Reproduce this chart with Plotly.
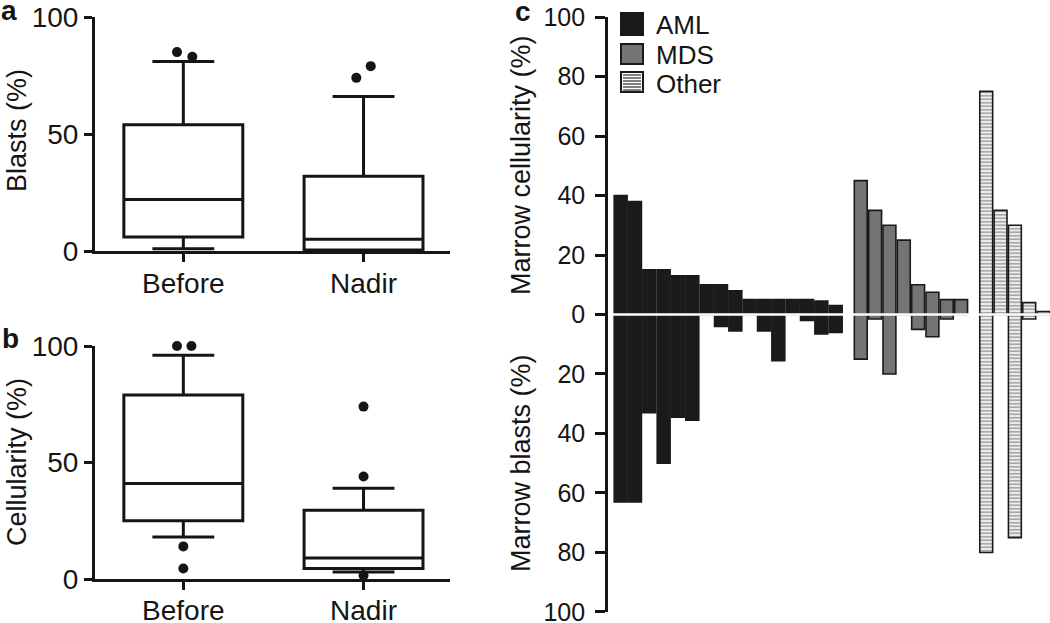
import plotly.graph_objects as go

groups = ['Before', 'Nadir']

blasts_q1 = [6, 0.5]
blasts_median = [22, 5]
blasts_q3 = [54, 32]
blasts_low = [1, 0]
blasts_high = [81, 66]
blasts_out_before = [85, 83]
blasts_out_nadir = [74, 79]

cell_q1 = [25, 4.5]
cell_median = [41, 9]
cell_q3 = [79, 29.5]
cell_low = [18, 3]
cell_high = [96, 39]
cell_out_before = [100, 100, 14, 4.5]
cell_out_nadir = [74, 44, 1.5]

# Panel c: marrow cellularity (up) and marrow blasts (down) per patient (%)
diagnoses = ['AML', 'MDS', 'Other']
aml_cellularity = [40, 38, 15, 15, 13, 13, 10, 10, 8, 5, 5, 5, 5, 5, 4.5, 3]
aml_blasts = [63, 63, 33, 50, 34.5, 35.5, 0, 4, 5.5, 0, 5.5, 15.5, 0, 2, 6.5, 6]
mds_cellularity = [45, 35, 30, 25, 10, 7.5, 5, 5]
mds_blasts = [15, 1.5, 20, 0, 5, 7.5, 1.5, 0]
other_cellularity = [75, 35, 30, 4, 1]
other_blasts = [80, 0, 75, 1.5, 0]

FONT = 'Liberation Sans, Arial, sans-serif'
INK = '#151515'
W, H = 1050, 623

fig = go.Figure()


def add_boxes(q1, med, q3, lo, hi, xa, ya):
    fig.add_trace(go.Box(
        x=[0, 1], q1=q1, median=med, q3=q3, lowerfence=lo, upperfence=hi,
        width=0.66, whiskerwidth=0.52, boxpoints=False,
        line=dict(color=INK, width=3), fillcolor='white',
        xaxis=xa, yaxis=ya, showlegend=False, hoverinfo='skip'))


def add_dots(xs, ys, xa, ya):
    fig.add_trace(go.Scatter(
        x=xs, y=ys, mode='markers', marker=dict(color=INK, size=10),
        xaxis=xa, yaxis=ya, showlegend=False, cliponaxis=False))


# panel a
add_boxes(blasts_q1, blasts_median, blasts_q3, blasts_low, blasts_high, 'x', 'y')
add_dots([-0.035, 0.05], blasts_out_before, 'x', 'y')
add_dots([0.96, 1.04], blasts_out_nadir, 'x', 'y')

# panel b
add_boxes(cell_q1, cell_median, cell_q3, cell_low, cell_high, 'x2', 'y2')
add_dots([-0.035, 0.045, 0, 0], cell_out_before, 'x2', 'y2')
add_dots([1, 1, 1], cell_out_nadir, 'x2', 'y2')

# panel c
STRIPE = '#555555'
other_pattern = dict(shape='-', fgcolor=STRIPE, bgcolor='white',
                     size=3.5, solidity=0.6)
series = [
    (diagnoses[0], aml_cellularity, aml_blasts, 0.0, dict(color='#1b1b1b')),
    (diagnoses[1], mds_cellularity, mds_blasts, 16.75, dict(color='#747474')),
    (diagnoses[2], other_cellularity, other_blasts, 25.5,
     dict(color='white', pattern=other_pattern)),
]
for name, cel, bla, start, mk in series:
    pos = [start + i for i in range(len(cel))]
    marker = dict(mk, line=dict(color='#1a1a1a', width=1.6))
    fig.add_trace(go.Bar(x=pos, y=cel, width=0.9, name=name, marker=marker,
                         showlegend=False, xaxis='x3', yaxis='y3'))
    fig.add_trace(go.Bar(x=pos, y=[-v for v in bla], width=0.9, name=name,
                         marker=marker, showlegend=False,
                         xaxis='x3', yaxis='y3'))

# white zero line separating the two halves
fig.add_shape(type='line', xref='x3', yref='y3', x0=-0.6, x1=29.95, y0=0, y1=0,
              line=dict(color='white', width=2.5))

# legend drawn by hand to get the large swatches
def px_rect(x0, y0, x1, y1, **kw):
    fig.add_shape(type='rect', xref='paper', yref='paper',
                  x0=x0 / W, x1=x1 / W, y0=1 - y0 / H, y1=1 - y1 / H, **kw)

swatches = [(13, 35), (44, 64), (72, 92)]
fills = ['#1b1b1b', '#747474', 'white']
for name, (t, b), fill in zip(diagnoses, swatches, fills):
    px_rect(621, t, 643, b, fillcolor=fill, line=dict(color='#1a1a1a', width=2))
    fig.add_annotation(text=name, x=654 / W, y=1 - (t + b + 3) / 2 / H,
                       xref='paper', yref='paper', xanchor='left',
                       yanchor='middle', showarrow=False,
                       font=dict(size=26, color=INK, family=FONT))
for yy in range(75, 91, 3):
    fig.add_shape(type='line', xref='paper', yref='paper',
                  x0=623 / W, x1=641 / W, y0=1 - yy / H, y1=1 - yy / H,
                  line=dict(color=STRIPE, width=1.5))

ax_common = dict(showline=True, linewidth=3, linecolor=INK, ticks='outside',
                 ticklen=8, tickwidth=3, tickcolor=INK, showgrid=False,
                 zeroline=False, automargin=False, ticklabeloverflow='allow',
                 tickfont=dict(size=28, color=INK, family=FONT))

fig.update_layout(
    width=W, height=H,
    margin=dict(l=0, r=0, t=0, b=0),
    plot_bgcolor='white', paper_bgcolor='white',
    font=dict(family=FONT, color=INK),
    barmode='overlay', showlegend=False,
    xaxis=dict(ax_common, domain=[0.0905, 0.4286], range=[-0.49, 1.48],
               tickvals=[0, 1], ticktext=groups, anchor='y',
               ticklabelstandoff=-3),
    yaxis=dict(ax_common, domain=[0.597, 0.9727], range=[0, 100],
               tickvals=[0, 50, 100], anchor='x'),
    xaxis2=dict(ax_common, domain=[0.0905, 0.4286], range=[-0.49, 1.48],
                tickvals=[0, 1], ticktext=groups, anchor='y2',
                ticklabelstandoff=-4),
    yaxis2=dict(ax_common, domain=[0.0706, 0.4446], range=[0, 100],
                tickvals=[0, 50, 100], anchor='x2'),
    xaxis3=dict(domain=[0.579, 1.0], range=[-0.886, 29.95], showline=False,
                showticklabels=False, ticks='', showgrid=False, zeroline=False,
                automargin=False, anchor='y3'),
    yaxis3=dict(ax_common, domain=[0.01766, 0.9727], range=[-100, 100],
                tickvals=list(range(-100, 101, 20)),
                ticktext=[str(abs(v)) for v in range(-100, 101, 20)],
                ticklen=10, linewidth=2.5, tickwidth=2.5, ticklabelstandoff=5,
                tickfont=dict(size=25, color=INK, family=FONT), anchor='x3'),
)

anns = [
    ('Blasts (%)', 17, 131, -90, 27, False),
    ('Cellularity (%)', 17, 462, -90, 27, False),
    ('Marrow cellularity (%)', 521, 165, -90, 27, False),
    ('Marrow blasts (%)', 521, 463, -90, 27, False),
    ('a', 9, 11, 0, 28, True),
    ('b', 10, 339, 0, 28, True),
    ('c', 523, 12, 0, 28, True),
]
for text, px_, py_, ang, size, bold in anns:
    fig.add_annotation(text=f'<b>{text}</b>' if bold else text,
                       x=px_ / W, y=1 - py_ / H, xref='paper', yref='paper',
                       xanchor='center', yanchor='middle',
                       textangle=ang, showarrow=False,
                       font=dict(size=size, color=INK, family=FONT))

fig.write_html("out.html", config={'displayModeBar': False},
               post_script="document.body.style.margin='0px';")
